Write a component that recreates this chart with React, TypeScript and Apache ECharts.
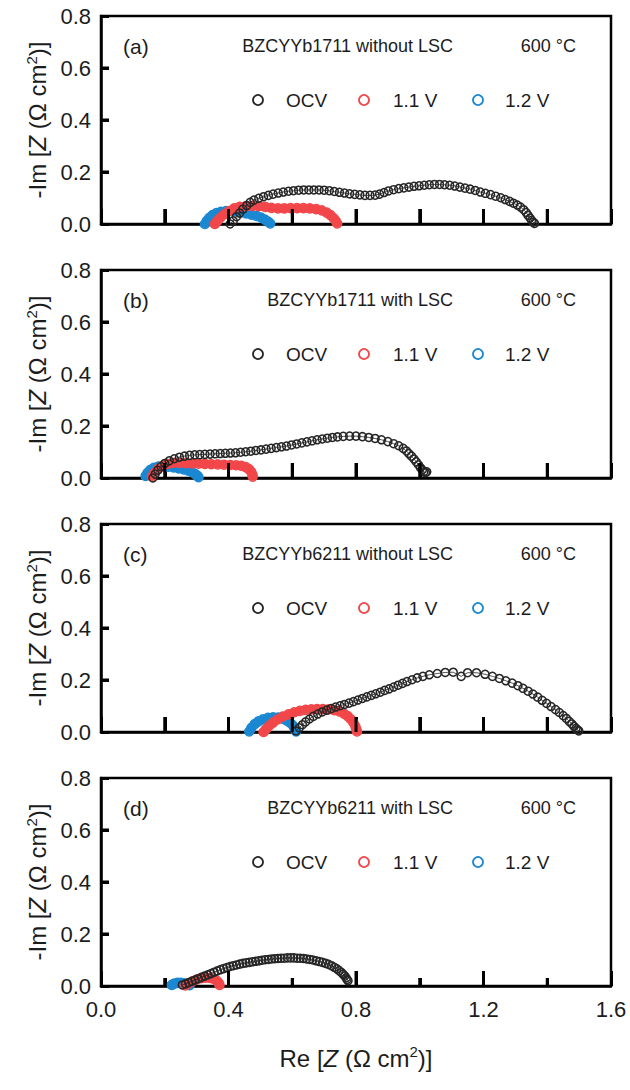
import React, { useEffect, useRef } from "react";
import * as echarts from "echarts";

const PANEL_LABELS = ["(a)", "(b)", "(c)", "(d)"];
const PANEL_TITLES = [
  "BZCYYb1711 without LSC",
  "BZCYYb1711 with LSC",
  "BZCYYb6211 without LSC",
  "BZCYYb6211 with LSC",
];
const TEMPERATURE = "600 °C";
const SERIES_NAMES = ["OCV", "1.1 V", "1.2 V"];
const SERIES_COLORS = ["#262626", "#f2474a", "#1b88d2"];

// tick positions (axis units)
const X_MAJOR_TICKS = [0.4, 0.8, 1.2];
const X_MINOR_TICKS = [0.2, 0.6, 1.0, 1.4];
const Y_TICKS = [0.2, 0.4, 0.6];

// Panel (a)
const ocvA = [
  [0.405, 0.0], [0.415, 0.012], [0.425, 0.028], [0.435, 0.042], [0.445, 0.057], [0.457, 0.071],
  [0.468, 0.083], [0.48, 0.092], [0.495, 0.099], [0.51, 0.105], [0.525, 0.11], [0.54, 0.115],
  [0.556, 0.119], [0.572, 0.123], [0.588, 0.126], [0.604, 0.128], [0.62, 0.13], [0.636, 0.131],
  [0.652, 0.131], [0.668, 0.131], [0.684, 0.131], [0.7, 0.13], [0.716, 0.128], [0.732, 0.125],
  [0.748, 0.122], [0.764, 0.119], [0.78, 0.116], [0.796, 0.114], [0.812, 0.112], [0.828, 0.11],
  [0.844, 0.11], [0.86, 0.111], [0.874, 0.115], [0.888, 0.121], [0.902, 0.127], [0.918, 0.132],
  [0.934, 0.136], [0.95, 0.139], [0.966, 0.142], [0.982, 0.145], [0.998, 0.147], [1.014, 0.149],
  [1.03, 0.151], [1.046, 0.152], [1.062, 0.152], [1.078, 0.151], [1.094, 0.149], [1.11, 0.146],
  [1.126, 0.142], [1.142, 0.138], [1.158, 0.134], [1.174, 0.129], [1.19, 0.123], [1.206, 0.118],
  [1.222, 0.113], [1.238, 0.107], [1.254, 0.101], [1.268, 0.094], [1.282, 0.087], [1.294, 0.08],
  [1.306, 0.073], [1.316, 0.065], [1.326, 0.055], [1.334, 0.044], [1.34, 0.033], [1.346, 0.023],
  [1.351, 0.014], [1.356, 0.007], [1.36, 0.002],
];
const v11A = [
  [0.357, 0.0], [0.365, 0.012], [0.375, 0.025], [0.388, 0.038], [0.402, 0.05], [0.418, 0.06],
  [0.435, 0.066], [0.455, 0.069], [0.475, 0.07], [0.495, 0.069], [0.515, 0.066], [0.535, 0.062],
  [0.555, 0.06], [0.575, 0.06], [0.595, 0.061], [0.615, 0.061], [0.635, 0.061], [0.655, 0.06],
  [0.675, 0.057], [0.693, 0.052], [0.708, 0.044], [0.72, 0.034], [0.73, 0.022], [0.737, 0.011],
  [0.741, 0.002],
];
const v12A = [
  [0.326, 0.0], [0.332, 0.012], [0.34, 0.024], [0.35, 0.034], [0.362, 0.042], [0.376, 0.047],
  [0.392, 0.05], [0.408, 0.05], [0.424, 0.048], [0.44, 0.045], [0.456, 0.041], [0.472, 0.036],
  [0.488, 0.031], [0.502, 0.025], [0.514, 0.017], [0.524, 0.009], [0.531, 0.002],
];

// Panel (b)
const ocvB = [
  [0.163, 0.0], [0.17, 0.015], [0.178, 0.03], [0.188, 0.044], [0.2, 0.056], [0.214, 0.066],
  [0.23, 0.074], [0.246, 0.08], [0.262, 0.084], [0.278, 0.087], [0.294, 0.089], [0.31, 0.09],
  [0.326, 0.091], [0.342, 0.092], [0.358, 0.093], [0.374, 0.094], [0.39, 0.095], [0.406, 0.096],
  [0.422, 0.097], [0.438, 0.099], [0.454, 0.101], [0.47, 0.103], [0.486, 0.106], [0.502, 0.108],
  [0.518, 0.111], [0.534, 0.114], [0.55, 0.117], [0.566, 0.12], [0.582, 0.123], [0.598, 0.127],
  [0.614, 0.131], [0.63, 0.135], [0.646, 0.139], [0.662, 0.143], [0.678, 0.147], [0.694, 0.15],
  [0.71, 0.153], [0.726, 0.156], [0.742, 0.158], [0.76, 0.16], [0.78, 0.161], [0.8, 0.161],
  [0.82, 0.159], [0.84, 0.156], [0.86, 0.152], [0.88, 0.147], [0.9, 0.14], [0.918, 0.132],
  [0.934, 0.124], [0.948, 0.114], [0.958, 0.104], [0.966, 0.094], [0.974, 0.084], [0.982, 0.073],
  [0.989, 0.062], [0.996, 0.051], [1.002, 0.04], [1.008, 0.031], [1.013, 0.024], [1.018, 0.021],
  [1.022, 0.024],
];
const v11B = [
  [0.16, 0.005], [0.168, 0.02], [0.178, 0.034], [0.192, 0.046], [0.208, 0.054], [0.226, 0.058],
  [0.246, 0.058], [0.266, 0.057], [0.286, 0.056], [0.306, 0.055], [0.326, 0.054], [0.346, 0.053],
  [0.366, 0.052], [0.386, 0.051], [0.406, 0.05], [0.424, 0.049], [0.44, 0.047], [0.454, 0.042],
  [0.464, 0.034], [0.471, 0.024], [0.475, 0.013], [0.476, 0.005],
];
const v12B = [
  [0.14, 0.008], [0.146, 0.02], [0.155, 0.031], [0.166, 0.039], [0.18, 0.044], [0.196, 0.045],
  [0.212, 0.044], [0.228, 0.041], [0.244, 0.037], [0.26, 0.033], [0.274, 0.028], [0.286, 0.022],
  [0.296, 0.015], [0.303, 0.008], [0.306, 0.003],
];

// Panel (c)
const ocvC = [
  [0.612, 0.004], [0.622, 0.016], [0.632, 0.028], [0.642, 0.039], [0.654, 0.05], [0.666, 0.06],
  [0.68, 0.069], [0.694, 0.077], [0.708, 0.084], [0.722, 0.09], [0.736, 0.096], [0.75, 0.101],
  [0.764, 0.106], [0.778, 0.111], [0.792, 0.117], [0.806, 0.123], [0.82, 0.129], [0.834, 0.135],
  [0.848, 0.141], [0.862, 0.147], [0.876, 0.153], [0.89, 0.16], [0.904, 0.166], [0.918, 0.173],
  [0.932, 0.18], [0.946, 0.187], [0.96, 0.194], [0.976, 0.201], [0.992, 0.208], [1.01, 0.214],
  [1.03, 0.22], [1.055, 0.225], [1.08, 0.229], [1.105, 0.23], [1.13, 0.214], [1.15, 0.228],
  [1.178, 0.228], [1.205, 0.222], [1.228, 0.214], [1.25, 0.206], [1.27, 0.197], [1.29, 0.188],
  [1.308, 0.178], [1.324, 0.168], [1.34, 0.157], [1.355, 0.146], [1.37, 0.134], [1.384, 0.122],
  [1.398, 0.11], [1.412, 0.098], [1.426, 0.086], [1.438, 0.075], [1.45, 0.063], [1.46, 0.052],
  [1.469, 0.041], [1.477, 0.031], [1.484, 0.022], [1.49, 0.014], [1.495, 0.008], [1.499, 0.004],
];
const v11C = [
  [0.51, 0.0], [0.518, 0.012], [0.528, 0.024], [0.54, 0.036], [0.554, 0.048], [0.57, 0.059],
  [0.588, 0.068], [0.606, 0.076], [0.624, 0.081], [0.642, 0.085], [0.66, 0.087], [0.678, 0.088],
  [0.696, 0.088], [0.714, 0.087], [0.732, 0.084], [0.748, 0.079], [0.762, 0.071], [0.774, 0.061],
  [0.784, 0.049], [0.792, 0.036], [0.798, 0.022], [0.801, 0.01], [0.803, 0.002],
];
const v12C = [
  [0.465, 0.002], [0.472, 0.016], [0.482, 0.03], [0.494, 0.041], [0.508, 0.049], [0.524, 0.054],
  [0.54, 0.056], [0.556, 0.055], [0.57, 0.051], [0.582, 0.045], [0.592, 0.037], [0.6, 0.028],
  [0.606, 0.018], [0.61, 0.008], [0.612, 0.002],
];

// Panel (d)
const ocvD = [
  [0.255, 0.004], [0.265, 0.008], [0.275, 0.013], [0.285, 0.018], [0.295, 0.023], [0.305, 0.028],
  [0.315, 0.033], [0.325, 0.038], [0.335, 0.043], [0.345, 0.048], [0.355, 0.053], [0.365, 0.058],
  [0.375, 0.063], [0.385, 0.067], [0.395, 0.071], [0.405, 0.075], [0.415, 0.078], [0.425, 0.081],
  [0.435, 0.084], [0.445, 0.087], [0.455, 0.089], [0.465, 0.091], [0.475, 0.093], [0.485, 0.095],
  [0.495, 0.097], [0.505, 0.099], [0.515, 0.101], [0.525, 0.102], [0.535, 0.104], [0.545, 0.105],
  [0.555, 0.106], [0.565, 0.107], [0.575, 0.107], [0.585, 0.108], [0.595, 0.108], [0.605, 0.108],
  [0.615, 0.107], [0.625, 0.107], [0.635, 0.106], [0.645, 0.104], [0.655, 0.102], [0.665, 0.1],
  [0.675, 0.097], [0.685, 0.094], [0.695, 0.091], [0.705, 0.087], [0.714, 0.083], [0.723, 0.078],
  [0.732, 0.072], [0.74, 0.066], [0.747, 0.059], [0.754, 0.052], [0.76, 0.045], [0.765, 0.038],
  [0.769, 0.031], [0.772, 0.025], [0.775, 0.02],
];
const v11D = [
  [0.265, 0.002], [0.275, 0.01], [0.287, 0.018], [0.3, 0.025], [0.314, 0.03], [0.328, 0.032],
  [0.342, 0.031], [0.354, 0.027], [0.363, 0.02], [0.369, 0.012], [0.372, 0.004],
];
const v12D = [
  [0.222, 0.004], [0.23, 0.009], [0.24, 0.012], [0.25, 0.012], [0.26, 0.01], [0.27, 0.007],
  [0.278, 0.003],
];

const PANEL_DATA = [
  [ocvA, v11A, v12A],
  [ocvB, v11B, v12B],
  [ocvC, v11C, v12C],
  [ocvD, v11D, v12D],
];

const FONT = "'Liberation Sans', Arial, sans-serif";
const TEXT_COLOR = "#1c1c1c";
const AXIS_COLOR = "#000";
const GRID_TOPS = [16, 270, 524, 778];
const GRID_H = 208;
const GRID_LEFT = 101;
const GRID_W = 510;
const MAJOR_LEN = 15;
const MINOR_LEN_D = 8;
const Y_TICK_LEN = 8;
const TICK_W = 3;

export default function App() {
  const ref = useRef<HTMLDivElement>(null);

  useEffect(() => {
    if (!ref.current) return;
    const chart = echarts.init(ref.current, null, { renderer: "svg" });

    const nameRich = {
      n: { fontSize: 24, fontFamily: FONT, color: TEXT_COLOR },
      z: { fontSize: 24, fontFamily: FONT, color: TEXT_COLOR, fontStyle: "italic" },
      sup: { fontSize: 15, fontFamily: FONT, color: TEXT_COLOR, padding: [0, 0, 13, 0] },
    };

    const grids = GRID_TOPS.map((top) => ({
      left: GRID_LEFT,
      width: GRID_W,
      top,
      height: GRID_H,
      show: true,
      borderColor: AXIS_COLOR,
      borderWidth: 2.5,
      backgroundColor: "rgba(0,0,0,0)",
    }));

    const xAxes = GRID_TOPS.map((_, i) => ({
      type: "value",
      gridIndex: i,
      min: 0,
      max: 1.6,
      interval: 0.4,
      axisLine: { show: true, lineStyle: { color: AXIS_COLOR, width: 2.5 } },
      axisTick: { show: true, inside: true, length: MAJOR_LEN, lineStyle: { color: AXIS_COLOR, width: TICK_W } },
      minorTick: {
        show: true,
        splitNumber: 2,
        length: i === 3 ? MINOR_LEN_D : MAJOR_LEN,
        lineStyle: { color: AXIS_COLOR, width: TICK_W },
      },
      axisLabel: {
        show: i === 3,
        fontSize: 22,
        color: TEXT_COLOR,
        fontFamily: FONT,
        margin: 12,
        formatter: (v: number) => v.toFixed(1),
      },
      splitLine: { show: false },
      minorSplitLine: { show: false },
      name: i === 3 ? "{n|Re [}{z|Z}{n| (Ω cm}{sup|2}{n|)]}" : "",
      nameLocation: "middle",
      nameGap: 58,
      nameTextStyle: { rich: nameRich },
    }));

    const yAxes = GRID_TOPS.map((_, i) => ({
      type: "value",
      gridIndex: i,
      min: 0,
      max: 0.8,
      interval: 0.2,
      axisLine: { show: true, lineStyle: { color: AXIS_COLOR, width: 2.5 } },
      axisTick: { show: true, inside: true, length: Y_TICK_LEN, lineStyle: { color: AXIS_COLOR, width: TICK_W } },
      axisLabel: {
        fontSize: 22,
        color: TEXT_COLOR,
        fontFamily: FONT,
        margin: 10,
        formatter: (v: number) => v.toFixed(1),
      },
      splitLine: { show: false },
      name: "{n|-Im [}{z|Z}{n| (Ω cm}{sup|2}{n|)]}",
      nameLocation: "middle",
      nameGap: 48,
      nameRotate: 90,
      nameTextStyle: { rich: nameRich },
    }));

    const series: any[] = [];
    PANEL_DATA.forEach((panel, i) => {
      // 1.2 V first, then 1.1 V, then OCV on top
      [2, 1, 0].forEach((j) => {
        const color = SERIES_COLORS[j];
        const isOcv = j === 0;
        series.push({
          name: SERIES_NAMES[j],
          type: "line",
          xAxisIndex: i,
          yAxisIndex: i,
          data: panel[j],
          silent: true,
          smooth: isOcv ? false : 0.3,
          symbol: "circle",
          symbolSize: isOcv ? 8 : 9,
          showSymbol: true,
          lineStyle: isOcv
            ? { color, width: 0.8 }
            : { color, width: 8, cap: "round", join: "round" },
          itemStyle: {
            color: "rgba(0,0,0,0)",
            borderColor: color,
            borderWidth: isOcv ? 1.5 : 1.6,
          },
          emphasis: { disabled: true },
          z: isOcv ? 5 : j === 1 ? 4 : 3,
        });
      });
    });

    chart.setOption({
      animation: false,
      backgroundColor: "#fff",
      textStyle: { fontFamily: FONT },
      grid: grids,
      xAxis: xAxes,
      yAxis: yAxes,
      series,
    });

    const graphics: any[] = [];
    const legendCx = [258, 364, 478];
    const legendTx = [286, 393, 505];
    GRID_TOPS.forEach((top, i) => {
      const ty = top + 30;
      const ly = top + 84;
      graphics.push({
        type: "text",
        x: 123,
        y: ty,
        style: { text: PANEL_LABELS[i], fontSize: 21, fontFamily: FONT, fill: TEXT_COLOR, align: "left", verticalAlign: "middle" },
      });
      graphics.push({
        type: "text",
        x: 453,
        y: ty,
        style: { text: PANEL_TITLES[i], fontSize: 18, fontFamily: FONT, fill: TEXT_COLOR, align: "right", verticalAlign: "middle" },
      });
      graphics.push({
        type: "text",
        x: 576,
        y: ty,
        style: { text: TEMPERATURE, fontSize: 18, fontFamily: FONT, fill: TEXT_COLOR, align: "right", verticalAlign: "middle" },
      });
      SERIES_NAMES.forEach((nm, j) => {
        graphics.push({
          type: "circle",
          shape: { cx: legendCx[j], cy: ly, r: 5 },
          style: { fill: "none", stroke: SERIES_COLORS[j], lineWidth: 1.8 },
        });
        graphics.push({
          type: "text",
          x: legendTx[j],
          y: ly,
          style: { text: nm, fontSize: 19, fontFamily: FONT, fill: TEXT_COLOR, align: "left", verticalAlign: "middle" },
        });
      });

      // inward ticks, positioned through the chart's own axis scales
      const finder = { gridIndex: i };
      const xTick = (v: number, len: number) => {
        const p = chart.convertToPixel(finder as any, [v, 0]) as number[];
        if (!p || !isFinite(p[0])) return;
        graphics.push({
          type: "line",
          z: 100,
          shape: { x1: p[0], y1: p[1], x2: p[0], y2: p[1] - len },
          style: { stroke: AXIS_COLOR, lineWidth: TICK_W },
        });
      };
      X_MAJOR_TICKS.forEach((v) => xTick(v, MAJOR_LEN));
      X_MINOR_TICKS.forEach((v) => xTick(v, i === 3 ? MINOR_LEN_D : MAJOR_LEN));
      Y_TICKS.forEach((v) => {
        const p = chart.convertToPixel(finder as any, [0, v]) as number[];
        if (!p || !isFinite(p[1])) return;
        graphics.push({
          type: "line",
          z: 100,
          shape: { x1: p[0], y1: p[1], x2: p[0] + Y_TICK_LEN, y2: p[1] },
          style: { stroke: AXIS_COLOR, lineWidth: TICK_W },
        });
      });
    });

    chart.setOption({ graphic: graphics });

    return () => chart.dispose();
  }, []);

  return (
    <div
      ref={ref}
      style={{ position: "absolute", left: 0, top: 0, width: 630, height: 1090 }}
    />
  );
}
